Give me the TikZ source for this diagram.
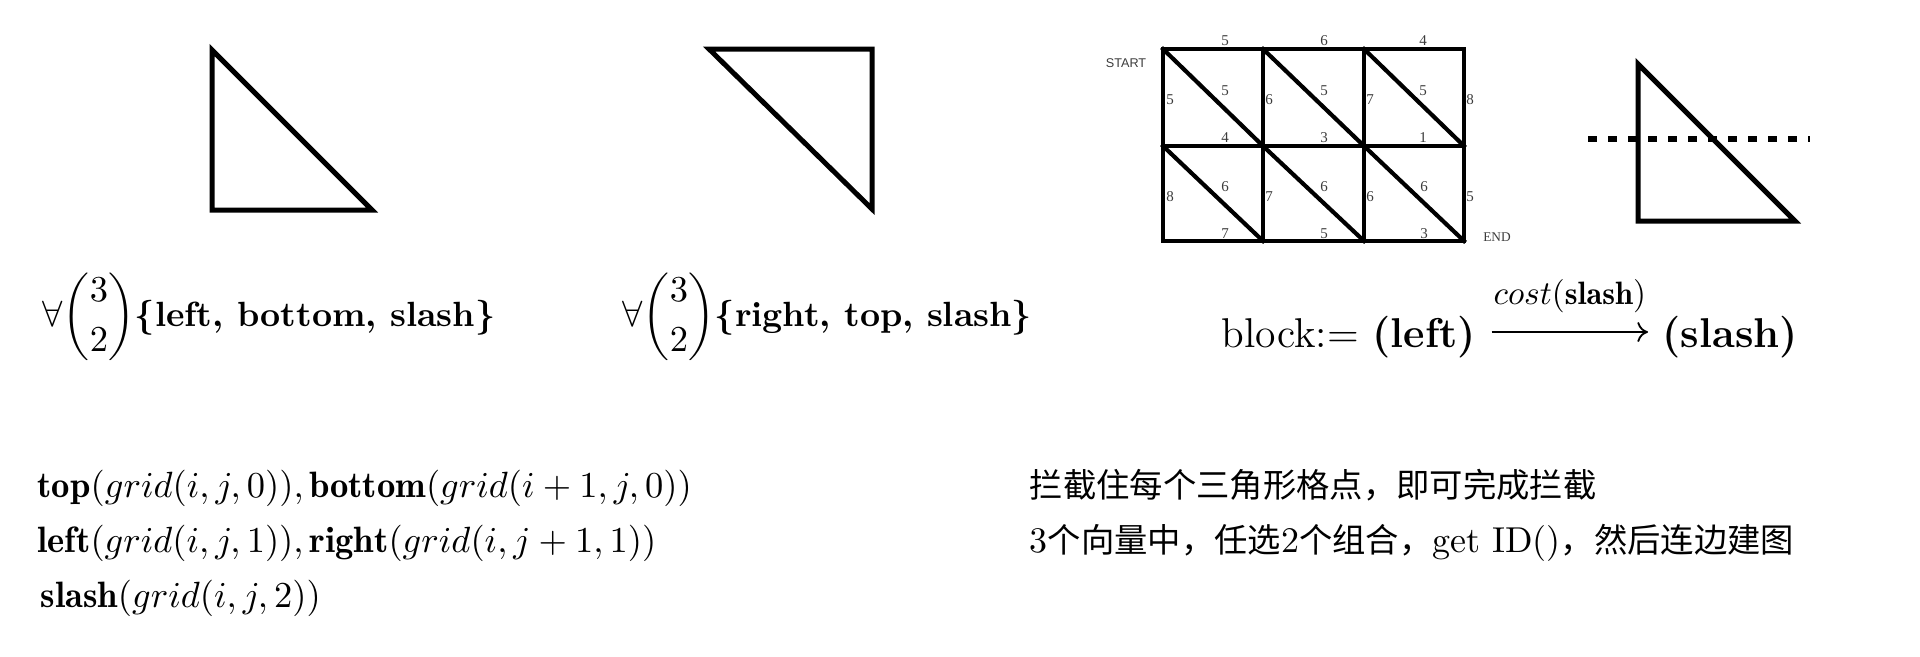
\documentclass[tikz,border=0pt]{standalone}
\usepackage{amsmath}
\usepackage{fontspec}
\usetikzlibrary{arrows.meta}
\newfontfamily\cjk{Noto Sans CJK SC}
\newfontfamily\gsans{Liberation Sans}
\newfontfamily\gserif{Liberation Serif}
\definecolor{lbl}{HTML}{3C3C3C}
\begin{document}
\begin{tikzpicture}[x=0.3pt,y=-0.3pt,
  tri/.style={line width=1.5pt, line join=miter},
  gline/.style={line width=1.25pt, line cap=rect},
  gnum/.style={inner sep=0, text=lbl, font=\fontsize{4.5}{5}\selectfont\gserif},
  mtext/.style={inner sep=0, anchor=base west},
  dashln/.style={line width=1.6pt, dash pattern=on 2.7pt off 3.3pt},
  cmarrow/.style={line width=0.55pt, -{Computer Modern Rightarrow[length=3.2pt,width=6pt]}}
]
\useasboundingbox (0,0) rectangle (1920,656);

% triangles
\draw[tri] (212,50) -- (212,210) -- (372,210) -- cycle;
\draw[tri] (709,49) -- (872,49) -- (872,209) -- cycle;
\draw[tri] (1638,64) -- (1638,221) -- (1795,221) -- cycle;
\coordinate (d1) at (1588,139);
\coordinate (d2) at (1810,139);
\draw[dashln] (d1) -- (d2);

% grid
\foreach \c/\x in {0/1163,1/1263,2/1364,3/1464}{
  \foreach \r/\y in {0/49,1/146,2/241}{
    \coordinate (g\r\c) at (\x,\y);
  }
}
\draw[gline] (g00) -- (g03);
\draw[gline] (g10) -- (g13);
\draw[gline] (g20) -- (g23);
\foreach \c in {0,1,2,3}{ \draw[gline] (g0\c) -- (g2\c); }
\draw[gline] (g00) -- (g11);
\draw[gline] (g01) -- (g12);
\draw[gline] (g02) -- (g13);
\draw[gline] (g10) -- (g21);
\draw[gline] (g11) -- (g22);
\draw[gline] (g12) -- (g23);

\node[inner sep=0, text=lbl, font=\fontsize{3.8}{4}\selectfont\gsans] (start) at (1126,63) {START};
\node[inner sep=0, text=lbl, font=\fontsize{4}{4.5}\selectfont\gserif] (end) at (1497,237) {END};

% grid numbers
\node[gnum] (h00) at (1225,41) {5};
\node[gnum] (h01) at (1324,41) {6};
\node[gnum] (h02) at (1423,41) {4};
\node[gnum] (v00) at (1170,100) {5};
\node[gnum] (v01) at (1269,100) {6};
\node[gnum] (v02) at (1370,100) {7};
\node[gnum] (v03) at (1470,100) {8};
\node[gnum] (s00) at (1225,91) {5};
\node[gnum] (s01) at (1324,91) {5};
\node[gnum] (s02) at (1423,91) {5};
\node[gnum] (h10) at (1225,138) {4};
\node[gnum] (h11) at (1324,138) {3};
\node[gnum] (h12) at (1423,138) {1};
\node[gnum] (v10) at (1170,197) {8};
\node[gnum] (v11) at (1269,197) {7};
\node[gnum] (v12) at (1370,197) {6};
\node[gnum] (v13) at (1470,197) {5};
\node[gnum] (s10) at (1225,187) {6};
\node[gnum] (s11) at (1324,187) {6};
\node[gnum] (s12) at (1424,187) {6};
\node[gnum] (h20) at (1225,234) {7};
\node[gnum] (h21) at (1324,234) {5};
\node[gnum] (h22) at (1424,234) {3};

% formulas
\node[mtext] (f1) at (42,326) {\fontsize{10.5}{13}\selectfont $\forall\dbinom{3}{2}\textbf{\{left, bottom, slash\}}$};
\node[mtext] (f2) at (622,326) {\fontsize{10.5}{13}\selectfont $\forall\dbinom{3}{2}\textbf{\{right, top, slash\}}$};

\node[mtext] (blk) at (1221,347) {\fontsize{12.5}{15}\selectfont block:= \textbf{(left)}};
\node[mtext] (sl) at (1662,347) {\fontsize{12.5}{15}\selectfont\textbf{(slash)}};
\draw[cmarrow] ([xshift=4.5pt,yshift=4.5pt]blk.base east) -- ([xshift=-4.2pt,yshift=4.5pt]sl.base west)
  node[midway, above=5.5pt, inner sep=0, font=\fontsize{9.7}{11}\selectfont] (cst) {$cost(\mathbf{slash})$};

\node[mtext] (l1) at (37,497) {\fontsize{11}{13}\selectfont $\mathbf{top}(grid(i,j,0)),\mathbf{bottom}(grid(i+1,j,0))$};
\node[mtext] (l2) at (37,552) {\fontsize{11}{13}\selectfont $\mathbf{left}(grid(i,j,1)),\mathbf{right}(grid(i,j+1,1))$};
\node[mtext] (l3) at (40,607) {\fontsize{11}{13}\selectfont $\mathbf{slash}(grid(i,j,2))$};

\node[mtext] (c1) at (1029,497) {\fontsize{10}{12}\selectfont{\cjk 拦截住每个三角形格点，即可完成拦截}};
\node[mtext] (c2) at (1029,552) {\fontsize{10.8}{12}\selectfont 3{\fontsize{10}{12}\selectfont\cjk 个向量中，任选}2{\fontsize{10}{12}\selectfont\cjk 个组合，}get ID(){\fontsize{10}{12}\selectfont\cjk ，然后连边建图}};
\end{tikzpicture}
\end{document}
